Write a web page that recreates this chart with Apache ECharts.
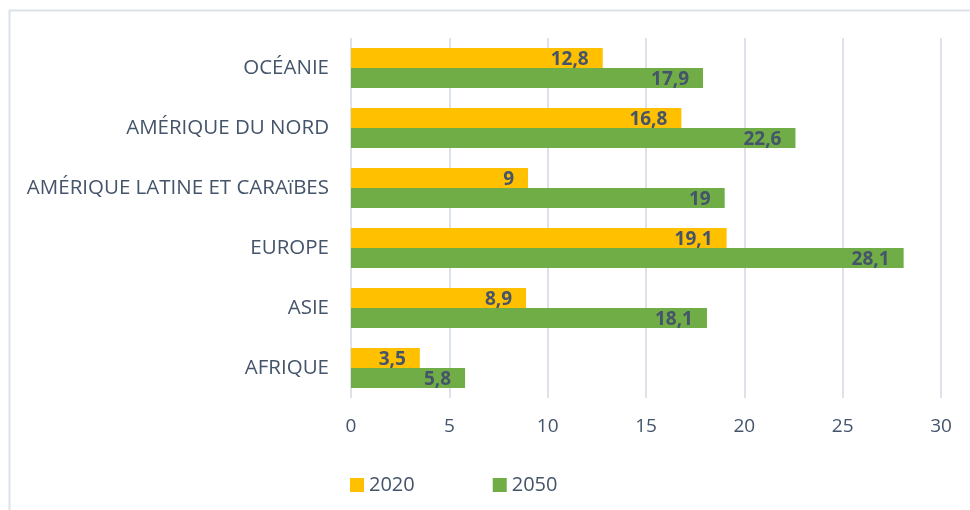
<!DOCTYPE html>
<html><head><meta charset="utf-8">
<script src="https://cdn.jsdelivr.net/npm/echarts@6/dist/echarts.min.js"></script>
<style>html,body{margin:0;padding:0;background:#fff}#c{width:970px;height:510px}</style>
</head><body><div id="c"></div>
<script>
const categories = ['AFRIQUE', 'ASIE', 'EUROPE', 'AMÉRIQUE LATINE ET CARAïBES', 'AMÉRIQUE DU NORD', 'OCÉANIE'];
const values2020 = [3.5, 8.9, 19.1, 9, 16.8, 12.8];
const values2050 = [5.8, 18.1, 28.1, 19, 22.6, 17.9];
const seriesNames = ['2020', '2050'];
const xTicks = [0, 5, 10, 15, 20, 25, 30];

const chart = echarts.init(document.getElementById('c'), null, {renderer: 'canvas'});
const fmt = p => String(p.value).replace('.', ',');
const labelStyle = {show: true, position: 'insideRight', distance: 14, formatter: fmt, color: '#44546A', fontWeight: 'bold', fontSize: 19, fontFamily: 'Open Sans', offset: [0, 2]};
chart.setOption({
  animation: false,
  graphic: [{type: 'rect', shape: {x: 9.5, y: 10.5, width: 1000, height: 1000}, style: {fill: 'none', stroke: '#DCE1EA', lineWidth: 2}, z: -1}],
  grid: {left: 351, right: 29, top: 38, bottom: 112, containLabel: false},
  legend: {left: 345, top: 470, itemWidth: 14, itemHeight: 14, itemGap: 78, icon: 'rect',
    textStyle: {color: '#44546A', fontSize: 20, fontFamily: 'Open Sans'}, data: seriesNames},
  xAxis: {type: 'value', min: 0, max: 30, interval: 5,
    axisLine: {show: false}, axisTick: {show: false},
    splitLine: {show: true, lineStyle: {color: '#DCE1EA', width: 2}},
    axisLabel: {color: '#44546A', fontSize: 19, fontFamily: 'Open Sans', margin: 19,
      formatter: v => xTicks.includes(v) ? String(v) : ''}},
  yAxis: {type: 'category', data: categories, inverse: false,
    axisLine: {show: false}, axisTick: {show: false},
    axisLabel: {color: '#44546A', fontSize: 20.5, fontFamily: 'Open Sans', margin: 22}},
  series: [
    {name: seriesNames[0], type: 'bar', data: values2020, barWidth: 20, barGap: '0%',
      itemStyle: {color: '#FFC000'}, label: labelStyle},
    {name: seriesNames[1], type: 'bar', data: values2050, barWidth: 20, barGap: '0%',
      itemStyle: {color: '#70AD47'}, label: labelStyle}
  ]
});
</script></body></html>
